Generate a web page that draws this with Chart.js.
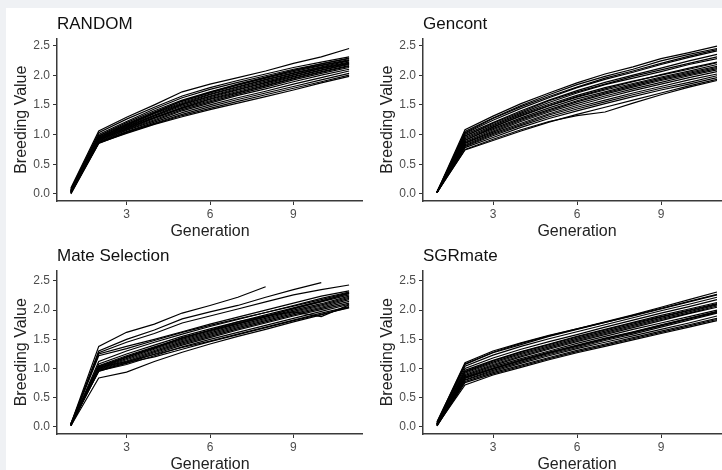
<!DOCTYPE html>
<html>
<head>
<meta charset="utf-8">
<script src="https://cdn.jsdelivr.net/npm/chart.js@4.4.1/dist/chart.umd.min.js"></script>
<style>
  body { margin: 0; background: #eff1f4; overflow: hidden; width: 722px; height: 470px; }
  #page { position: absolute; left: 6px; top: 8px; width: 716px; height: 462px; background: #fff; }
  canvas { position: absolute; }
</style>
</head>
<body>
<div id="page"></div>
<canvas id="random" width="363" height="241" style="left:0;top:0"></canvas>
<canvas id="gencont" width="365" height="241" style="left:366px;top:0"></canvas>
<canvas id="mateSel" width="363" height="242" style="left:0;top:232px"></canvas>
<canvas id="sgrmate" width="365" height="242" style="left:366px;top:232px"></canvas>
<script>
// generations on the x axis, tick positions
const generations = [1, 2, 3, 4, 5, 6, 7, 8, 9, 10, 11];
const genTicks = [3, 6, 9];
const valueTicks = [0, 0.5, 1, 1.5, 2, 2.5];

// breeding value per replicate run, one row per run
const randomRuns = [
  [0.10, 1.06, 1.29, 1.50, 1.72, 1.85, 1.96, 2.07, 2.20, 2.31, 2.45],
  [0.08, 1.03, 1.26, 1.46, 1.65, 1.79, 1.91, 2.02, 2.13, 2.22, 2.31],
  [0.06, 1.00, 1.22, 1.43, 1.62, 1.76, 1.88, 1.99, 2.10, 2.19, 2.28],
  [0.05, 0.98, 1.20, 1.40, 1.58, 1.72, 1.85, 1.97, 2.08, 2.17, 2.26],
  [0.07, 0.97, 1.18, 1.38, 1.56, 1.70, 1.83, 1.95, 2.06, 2.16, 2.25],
  [0.04, 0.95, 1.17, 1.36, 1.54, 1.68, 1.81, 1.93, 2.04, 2.14, 2.24],
  [0.05, 0.96, 1.15, 1.35, 1.52, 1.67, 1.80, 1.92, 2.03, 2.13, 2.22],
  [0.03, 0.94, 1.14, 1.33, 1.51, 1.65, 1.78, 1.90, 2.01, 2.12, 2.21],
  [0.06, 0.93, 1.13, 1.32, 1.50, 1.64, 1.76, 1.88, 2.00, 2.11, 2.20],
  [0.02, 0.92, 1.12, 1.31, 1.48, 1.62, 1.75, 1.87, 1.98, 2.09, 2.19],
  [0.04, 0.91, 1.11, 1.29, 1.46, 1.60, 1.73, 1.85, 1.97, 2.08, 2.18],
  [0.03, 0.90, 1.10, 1.28, 1.45, 1.59, 1.71, 1.83, 1.95, 2.06, 2.16],
  [0.05, 0.92, 1.09, 1.27, 1.44, 1.57, 1.70, 1.82, 1.94, 2.05, 2.15],
  [0.02, 0.89, 1.08, 1.25, 1.42, 1.55, 1.68, 1.80, 1.92, 2.03, 2.13],
  [0.01, 0.88, 1.07, 1.23, 1.40, 1.53, 1.66, 1.77, 1.89, 2.00, 2.10],
  [0.03, 0.87, 1.05, 1.21, 1.37, 1.50, 1.62, 1.73, 1.85, 1.96, 2.07],
  [0.01, 0.86, 1.04, 1.19, 1.34, 1.47, 1.59, 1.70, 1.81, 1.92, 2.03],
  [0.00, 0.85, 1.03, 1.18, 1.32, 1.44, 1.56, 1.67, 1.78, 1.89, 2.00],
  [0.02, 0.86, 1.02, 1.17, 1.30, 1.42, 1.53, 1.64, 1.75, 1.87, 1.98],
  [0.04, 0.94, 1.16, 1.37, 1.57, 1.71, 1.84, 1.96, 2.08, 2.19, 2.29]
];

const gencontRuns = [
  [0.03, 1.08, 1.31, 1.52, 1.70, 1.87, 2.02, 2.14, 2.28, 2.38, 2.49],
  [0.02, 1.05, 1.28, 1.49, 1.67, 1.84, 1.98, 2.10, 2.24, 2.35, 2.45],
  [0.03, 1.02, 1.24, 1.44, 1.62, 1.79, 1.93, 2.05, 2.18, 2.30, 2.41],
  [0.02, 1.00, 1.20, 1.40, 1.58, 1.74, 1.88, 2.00, 2.12, 2.24, 2.35],
  [0.04, 0.98, 1.17, 1.36, 1.54, 1.70, 1.84, 1.95, 2.06, 2.18, 2.28],
  [0.02, 0.95, 1.15, 1.34, 1.51, 1.66, 1.79, 1.90, 2.00, 2.10, 2.21],
  [0.03, 0.93, 1.13, 1.31, 1.48, 1.63, 1.75, 1.86, 1.97, 2.07, 2.18],
  [0.02, 0.91, 1.10, 1.28, 1.45, 1.60, 1.72, 1.84, 1.95, 2.05, 2.15],
  [0.03, 0.88, 1.08, 1.26, 1.42, 1.57, 1.70, 1.82, 1.93, 2.03, 2.13],
  [0.02, 0.86, 1.06, 1.24, 1.40, 1.55, 1.68, 1.80, 1.91, 2.01, 2.11],
  [0.03, 0.85, 1.04, 1.22, 1.38, 1.52, 1.65, 1.77, 1.88, 1.99, 2.09],
  [0.02, 0.83, 1.02, 1.19, 1.35, 1.49, 1.62, 1.74, 1.85, 1.96, 2.06],
  [0.03, 0.81, 1.00, 1.17, 1.33, 1.46, 1.58, 1.70, 1.81, 1.92, 2.02],
  [0.02, 0.80, 0.98, 1.15, 1.30, 1.43, 1.55, 1.67, 1.78, 1.88, 1.99],
  [0.03, 0.78, 0.95, 1.12, 1.27, 1.40, 1.52, 1.64, 1.75, 1.85, 1.96],
  [0.02, 0.75, 0.92, 1.08, 1.22, 1.32, 1.38, 1.53, 1.67, 1.80, 1.91],
  [0.03, 0.74, 0.90, 1.06, 1.21, 1.34, 1.46, 1.58, 1.70, 1.82, 1.93],
  [0.02, 0.97, 1.19, 1.38, 1.57, 1.72, 1.85, 1.98, 2.09, 2.20, 2.31],
  [0.03, 0.90, 1.12, 1.32, 1.49, 1.64, 1.77, 1.89, 2.01, 2.12, 2.22],
  [0.02, 1.03, 1.27, 1.47, 1.64, 1.80, 1.95, 2.07, 2.20, 2.32, 2.43]
];

const mateSelRuns = [
  [0.05, 1.38, 1.62, 1.76, 1.95, 2.08, 2.22, 2.40, null, null, null],
  [0.04, 1.30, 1.50, 1.66, 1.85, 1.97, 2.08, 2.22, 2.35, 2.47, null],
  [0.03, 1.27, 1.45, 1.60, 1.78, 1.90, 2.02, 2.14, 2.26, 2.35, 2.43],
  [0.06, 1.25, 1.38, 1.50, 1.63, 1.76, 1.88, 2.00, 2.12, 2.24, 2.33],
  [0.02, 1.12, 1.30, 1.45, 1.59, 1.72, 1.84, 1.96, 2.07, 2.18, 2.30],
  [0.05, 1.08, 1.25, 1.40, 1.55, 1.68, 1.80, 1.92, 2.04, 2.16, 2.28],
  [0.03, 1.05, 1.22, 1.37, 1.52, 1.65, 1.78, 1.90, 2.02, 2.14, 2.26],
  [0.04, 1.03, 1.19, 1.35, 1.50, 1.63, 1.76, 1.88, 2.00, 2.11, 2.24],
  [0.02, 1.01, 1.17, 1.33, 1.48, 1.61, 1.74, 1.86, 1.98, 2.09, 2.22],
  [0.05, 1.00, 1.15, 1.31, 1.46, 1.59, 1.72, 1.84, 1.96, 2.07, 2.20],
  [0.03, 0.99, 1.13, 1.29, 1.44, 1.57, 1.70, 1.82, 1.94, 2.05, 2.18],
  [0.04, 0.98, 1.11, 1.27, 1.42, 1.55, 1.68, 1.80, 1.92, 2.03, 2.15],
  [0.02, 0.97, 1.09, 1.25, 1.40, 1.53, 1.66, 1.78, 1.90, 2.01, 2.12],
  [0.03, 0.96, 1.07, 1.22, 1.37, 1.50, 1.62, 1.74, 1.86, 1.98, 2.10],
  [0.05, 1.02, 1.12, 1.24, 1.36, 1.47, 1.59, 1.71, 1.83, 1.95, 2.06],
  [0.04, 1.04, 1.20, 1.36, 1.52, 1.66, 1.80, 1.90, 1.97, 1.89, 2.09],
  [0.02, 0.84, 0.94, 1.12, 1.28, 1.42, 1.55, 1.67, 1.80, 1.92, 2.05],
  [0.06, 0.95, 1.10, 1.20, 1.33, 1.46, 1.58, 1.70, 1.82, 1.93, 2.04],
  [0.03, 1.00, 1.20, 1.35, 1.53, 1.65, 1.77, 1.89, 2.03, 2.15, 2.29],
  [0.04, 1.22, 1.34, 1.48, 1.62, 1.74, 1.85, 1.96, 2.08, 2.20, 2.31]
];

const sgrmateRuns = [
  [0.08, 1.10, 1.30, 1.44, 1.57, 1.68, 1.80, 1.92, 2.05, 2.18, 2.31],
  [0.06, 1.07, 1.27, 1.41, 1.55, 1.67, 1.79, 1.90, 2.02, 2.14, 2.26],
  [0.05, 1.04, 1.23, 1.38, 1.51, 1.63, 1.75, 1.87, 1.99, 2.10, 2.22],
  [0.07, 1.00, 1.18, 1.33, 1.46, 1.58, 1.71, 1.83, 1.95, 2.06, 2.18],
  [0.04, 0.97, 1.14, 1.29, 1.42, 1.55, 1.67, 1.79, 1.91, 2.02, 2.13],
  [0.06, 0.94, 1.11, 1.26, 1.39, 1.52, 1.64, 1.76, 1.88, 1.99, 2.10],
  [0.03, 0.92, 1.09, 1.24, 1.37, 1.50, 1.62, 1.74, 1.86, 1.97, 2.09],
  [0.05, 0.90, 1.07, 1.22, 1.35, 1.48, 1.60, 1.72, 1.84, 1.95, 2.07],
  [0.04, 0.88, 1.05, 1.20, 1.33, 1.46, 1.58, 1.70, 1.82, 1.94, 2.05],
  [0.02, 0.86, 1.03, 1.17, 1.30, 1.43, 1.55, 1.67, 1.78, 1.89, 2.00],
  [0.05, 0.85, 1.01, 1.15, 1.28, 1.40, 1.52, 1.63, 1.75, 1.86, 1.98],
  [0.03, 0.83, 0.99, 1.13, 1.26, 1.38, 1.50, 1.61, 1.73, 1.85, 1.96],
  [0.04, 0.81, 0.97, 1.11, 1.24, 1.36, 1.48, 1.59, 1.71, 1.83, 1.95],
  [0.02, 0.80, 0.95, 1.09, 1.22, 1.34, 1.45, 1.56, 1.67, 1.78, 1.90],
  [0.03, 0.78, 0.93, 1.06, 1.19, 1.31, 1.42, 1.53, 1.64, 1.75, 1.86],
  [0.02, 0.76, 0.91, 1.04, 1.17, 1.29, 1.40, 1.51, 1.62, 1.73, 1.84],
  [0.03, 0.72, 0.89, 1.02, 1.15, 1.27, 1.38, 1.49, 1.60, 1.71, 1.82],
  [0.09, 1.08, 1.28, 1.43, 1.56, 1.68, 1.79, 1.91, 2.03, 2.15, 2.27],
  [0.05, 0.95, 1.13, 1.28, 1.41, 1.54, 1.66, 1.78, 1.89, 2.00, 2.11],
  [0.04, 0.84, 1.00, 1.14, 1.27, 1.39, 1.51, 1.62, 1.74, 1.86, 1.97]
];

Chart.defaults.font.family = '"Liberation Sans", Arial, sans-serif';

function drawPanel(id, title, runs, yMax) {
  const ctx = document.getElementById(id).getContext('2d');
  return new Chart(ctx, {
    type: 'line',
    data: {
      datasets: runs.map(run => ({
        data: run.map((v, i) => ({ x: generations[i], y: v })),
        borderColor: '#000',
        borderWidth: 1.2,
        pointRadius: 0,
        tension: 0
      }))
    },
    options: {
      responsive: false,
      animation: false,
      devicePixelRatio: 1,
      layout: { padding: 0 },
      plugins: {
        legend: { display: false },
        tooltip: { enabled: false },
        title: {
          display: true,
          text: title,
          align: 'start',
          fullSize: false,
          color: '#111',
          font: { size: 17, weight: 'normal' },
          padding: { top: 14, bottom: 4 }
        }
      },
      scales: {
        x: {
          type: 'linear',
          min: 0.5,
          max: 11.5,
          afterBuildTicks: s => { s.ticks = genTicks.map(v => ({ value: v })); },
          afterFit: s => { s.height = 40; },
          grid: { drawOnChartArea: false, drawTicks: true, tickLength: 4, tickColor: '#333' },
          border: { display: true, color: '#3a3a3a', width: 1.5 },
          ticks: { color: '#4d4d4d', font: { size: 12 }, padding: 2, maxRotation: 0 },
          title: { display: true, text: 'Generation', color: '#222', font: { size: 16 }, padding: { top: 0, bottom: 0 } }
        },
        y: {
          min: -0.12,
          max: yMax,
          afterBuildTicks: s => { s.ticks = valueTicks.map(v => ({ value: v })); },
          afterFit: s => { s.width = 57; },
          grid: { drawOnChartArea: false, drawTicks: true, tickLength: 4, tickColor: '#333' },
          border: { display: true, color: '#3a3a3a', width: 1.5 },
          ticks: { color: '#4d4d4d', font: { size: 12 }, padding: 3, callback: v => v.toFixed(1) },
          title: { display: true, text: 'Breeding Value', color: '#222', font: { size: 16 }, padding: { top: 12, bottom: 0 } }
        }
      }
    }
  });
}

drawPanel('random', 'RANDOM', randomRuns, 2.62);
drawPanel('gencont', 'Gencont', gencontRuns, 2.62);
drawPanel('mateSel', 'Mate Selection', mateSelRuns, 2.68);
drawPanel('sgrmate', 'SGRmate', sgrmateRuns, 2.68);
</script>
</body>
</html>
